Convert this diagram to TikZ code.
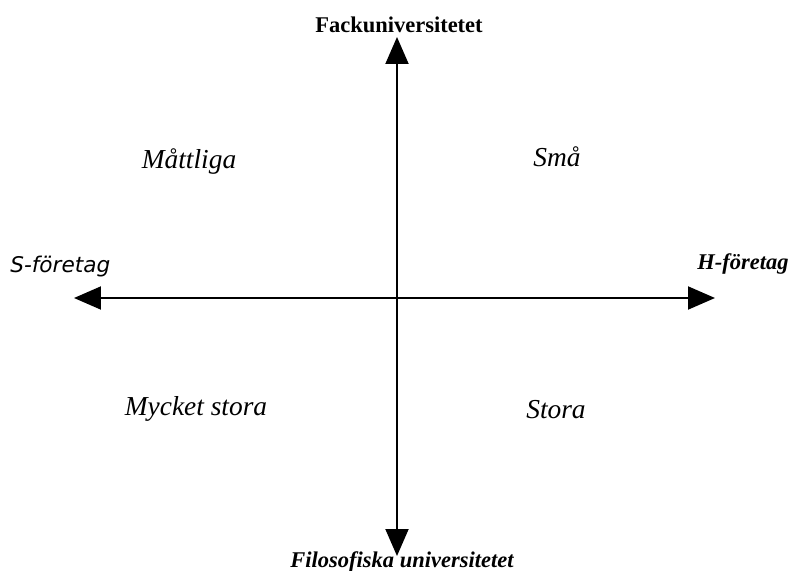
\documentclass[tikz,border=0pt]{standalone}
\usepackage{fontspec}
\newfontfamily\gothic{DejaVu Sans}
\newfontfamily\timesfont{Liberation Serif}
\usetikzlibrary{arrows.meta, positioning}
\tikzstyle{axis} = [
  line width=1.1pt,
  {Triangle[length=0.54cm,width=0.46cm]}-{Triangle[length=0.54cm,width=0.46cm]}
]
\tikzstyle{quadrant} = [
  anchor=base,
  font=\timesfont\fontsize{15.6}{18}\selectfont\itshape
]
\tikzstyle{pole} = [
  font=\timesfont\fontsize{12.8}{15}\selectfont\bfseries
]

\begin{document}
\begin{tikzpicture}[x=0.02cm, y=-0.02cm]
    \useasboundingbox (0,0) rectangle (795,571);

    \coordinate (top-tip) at (397,37);
    \coordinate (bottom-tip) at (397,556);
    \coordinate (left-tip) at (74,298);
    \coordinate (right-tip) at (715,298);

    \draw [axis] (left-tip) -- (right-tip);
    \draw [axis] (top-tip) -- (bottom-tip);

    \node (fack) [pole, anchor=base] at (399,33) {Fackuniversitetet};
    \node (filosofiska) [pole, anchor=base] at (402,567) {\itshape Filosofiska universitetet};
    \node (s-foretag) [anchor=base west, inner sep=0pt, font=\gothic\itshape\fontsize{12.3}{14}\selectfont] at (10,273) {S-företag};
    \node (h-foretag) [pole, anchor=base west, inner sep=0pt] at (697,269) {\itshape H-företag};

    \node (mattliga) [quadrant] at (189,169) {Måttliga};
    \node (sma) [quadrant] at (557,167) {Små};
    \node (mycket-stora) [quadrant] at (196,415) {Mycket stora};
    \node (stora) [quadrant] at (556,418) {Stora};
  \end{tikzpicture}
\end{document}
